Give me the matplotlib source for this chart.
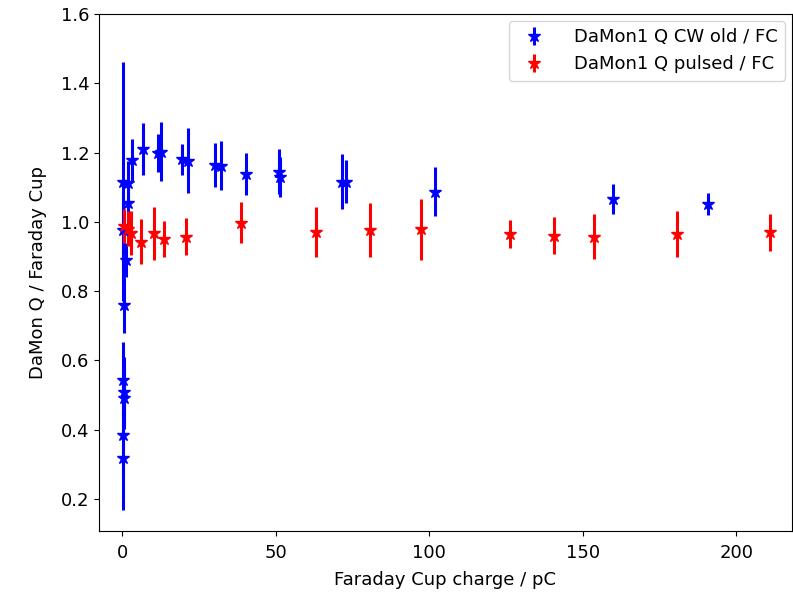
import matplotlib
matplotlib.use("Agg")
import matplotlib.pyplot as plt

# DaMon1 Q CW old / FC
cw_x = [0.1, 1.8, 3.3, 1.8, 0.1, 1.2, 0.5, 0.2, 0.6, 0.6, 0.2, 0.1,
        6.6, 11.7, 12.5, 19.3, 21.4, 30.1, 32.0, 40.2, 51.0, 51.3,
        71.4, 72.8, 101.9, 159.7, 190.6]
cw_y = [1.116, 1.111, 1.179, 1.053, 0.975, 0.890, 0.760, 0.543, 0.510, 0.491, 0.385, 0.317,
        1.209, 1.200, 1.203, 1.180, 1.176, 1.164, 1.162, 1.138, 1.145, 1.130,
        1.116, 1.116, 1.087, 1.066, 1.051]
cw_err = [0.345, 0.065, 0.060, 0.070, 0.100, 0.050, 0.080, 0.110, 0.100, 0.090, 0.120, 0.150,
          0.075, 0.055, 0.085, 0.045, 0.094, 0.063, 0.070, 0.060, 0.065, 0.058,
          0.080, 0.063, 0.070, 0.043, 0.031]

# DaMon1 Q pulsed / FC
pu_x = [0.7, 1.9, 2.8, 6.2, 10.3, 13.5, 20.6, 38.5, 63.0, 80.6, 97.2,
        126.2, 140.6, 153.6, 180.7, 210.9]
pu_y = [0.988, 0.980, 0.968, 0.942, 0.967, 0.950, 0.957, 0.998, 0.970, 0.976, 0.978,
        0.964, 0.960, 0.957, 0.965, 0.970]
pu_err = [0.050, 0.050, 0.063, 0.065, 0.077, 0.052, 0.053, 0.059, 0.072, 0.078, 0.089,
          0.040, 0.053, 0.065, 0.066, 0.053]

fs = 13
fig = plt.figure(figsize=(7.93, 5.93), dpi=100)
ax = fig.add_axes([99/793, 62/593, 693/793, 517/593])

ax.errorbar(cw_x, cw_y, yerr=cw_err, fmt='*', color='blue', ms=9,
            elinewidth=2.2, label='DaMon1 Q CW old / FC')
ax.errorbar(pu_x, pu_y, yerr=pu_err, fmt='*', color='red', ms=9,
            elinewidth=2.2, label='DaMon1 Q pulsed / FC')

ax.set_xlim(-7.6, 218.1)
ax.set_ylim(0.1075, 1.6)
ax.set_xticks([0, 50, 100, 150, 200])
ax.set_yticks([0.2, 0.4, 0.6, 0.8, 1.0, 1.2, 1.4, 1.6])
ax.tick_params(labelsize=fs)
ax.tick_params(axis='x', pad=6)
ax.set_xlabel('Faraday Cup charge / pC', fontsize=fs, labelpad=6)
ax.set_ylabel('DaMon Q / Faraday Cup', fontsize=fs, labelpad=10)
ax.legend(loc='upper right', fontsize=fs, handletextpad=1.2, borderaxespad=0.4)

fig.savefig('out.png', dpi=100)
